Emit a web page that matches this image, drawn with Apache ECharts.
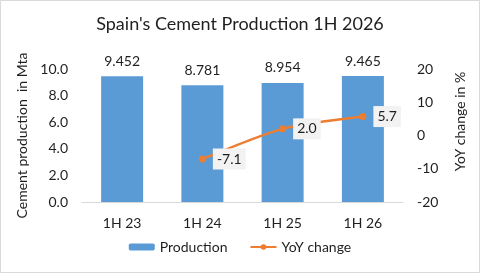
<!DOCTYPE html>
<html>
<head>
<meta charset="utf-8">
<script src="https://cdn.jsdelivr.net/npm/echarts@6/dist/echarts.min.js"></script>
<style>
  html, body { margin: 0; padding: 0; background: #fff; }
  #main { width: 480px; height: 273px; }
</style>
</head>
<body>
<div id="main"></div>
<script>
// chart data
const categories = ['1H 23', '1H 24', '1H 25', '1H 26'];
const production = [9.452, 8.781, 8.954, 9.465];
const yoyChange = [null, -7.1, 2.0, 5.7];

const font = 'Lato';
const textColor = '#1f1f1f';

let myChart = echarts.init(document.getElementById('main'));
let option = {
  animation: false,
  textStyle: { fontFamily: font },
  title: {
    text: "Spain's Cement Production 1H 2026",
    left: 'center',
    top: 10,
    textStyle: { fontFamily: font, fontSize: 18, fontWeight: 'normal', color: textColor }
  },
  graphic: [{
    type: 'rect',
    shape: { x: 0.5, y: 0.5, width: 479, height: 272 },
    style: { fill: 'none', stroke: '#d9d9d9', lineWidth: 1 },
    silent: true
  }],
  legend: {
    bottom: 14,
    left: 'center',
    itemWidth: 26,
    itemHeight: 7,
    itemGap: 22,
    textStyle: { fontFamily: font, fontSize: 14, color: textColor },
    data: ['Production', 'YoY change']
  },
  grid: { left: 82, right: 77, top: 69, bottom: 71 },
  xAxis: {
    type: 'category',
    data: categories,
    axisLine: { lineStyle: { color: '#d9d9d9' } },
    axisTick: { show: false },
    axisLabel: { fontFamily: font, fontSize: 14, color: textColor, margin: 14 }
  },
  yAxis: [
    {
      type: 'value',
      min: 0, max: 10, interval: 2,
      name: 'Cement production  in Mta',
      nameLocation: 'middle',
      nameRotate: 90,
      nameGap: 51,
      nameTextStyle: { fontFamily: font, fontSize: 14, color: textColor },
      splitLine: { show: false },
      axisLine: { show: false },
      axisTick: { show: false },
      axisLabel: { fontFamily: font, fontSize: 14, color: textColor, margin: 14, formatter: v => v.toFixed(1) }
    },
    {
      type: 'value',
      min: -20, max: 20, interval: 10,
      name: 'YoY change in %',
      nameLocation: 'middle',
      nameRotate: 90,
      nameGap: 50,
      nameTextStyle: { fontFamily: font, fontSize: 14, color: textColor, padding: [0, 0, 0, 28] },
      splitLine: { show: false },
      axisLine: { show: false },
      axisTick: { show: false },
      axisLabel: { fontFamily: font, fontSize: 14, color: textColor, margin: 14 }
    }
  ],
  series: [
    {
      name: 'Production',
      type: 'bar',
      data: production,
      barWidth: 42,
      itemStyle: { color: '#5b9bd5' },
      label: {
        show: true,
        position: 'top',
        distance: 8,
        fontFamily: font,
        fontSize: 14,
        color: textColor,
        formatter: p => p.value.toFixed(3)
      }
    },
    {
      name: 'YoY change',
      type: 'line',
      yAxisIndex: 1,
      data: yoyChange,
      smooth: 0.25,
      symbol: 'circle',
      symbolSize: 7,
      lineStyle: { color: '#ed7d31', width: 2.5 },
      itemStyle: { color: '#ed7d31' },
      label: {
        show: true,
        position: 'right',
        distance: 7,
        backgroundColor: '#f2f2f2',
        padding: [4, 4, 3, 4],
        fontFamily: font,
        fontSize: 14,
        color: textColor,
        formatter: p => p.value == null ? '' : p.value.toFixed(1)
      }
    }
  ]
};
myChart.setOption(option);
</script>
</body>
</html>
